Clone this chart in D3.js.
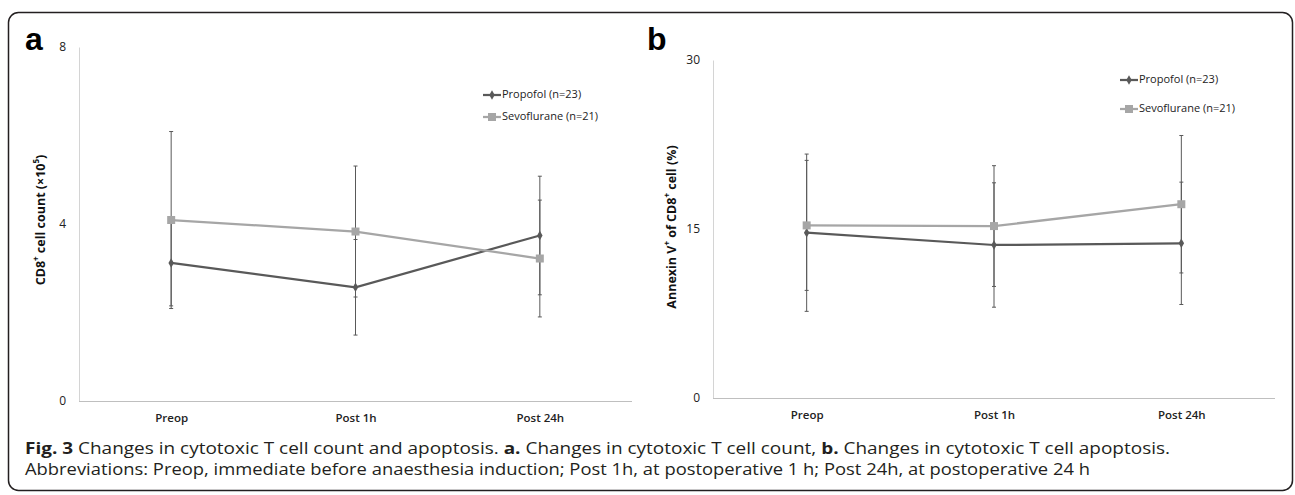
<!DOCTYPE html>
<html>
<head>
<meta charset="utf-8">
<script src="https://cdn.jsdelivr.net/npm/d3@7"></script>
<style>
  body { margin: 0; background: #fff; }
  svg { display: block; }
</style>
</head>
<body>
<script>
// data
const categories = ["Preop", "Post 1h", "Post 24h"];
const seriesNames = ["Propofol (n=23)", "Sevoflurane (n=21)"];

// panel a: CD8+ cell count (x10^5)
const countPropofol = [3.12, 2.57, 3.74];
const countPropofolSd = [0.97, 1.08, 1.34];
const countSevo = [4.09, 3.83, 3.22];
const countSevoSd = [2.00, 1.48, 1.32];
const countTicks = [0, 4, 8];

// panel b: Annexin V+ of CD8+ cell (%)
const annexPropofol = [14.67, 13.58, 13.73];
const annexPropofolSd = [6.98, 5.52, 5.43];
const annexSevo = [15.32, 15.26, 17.2];
const annexSevoSd = [5.77, 5.36, 6.1];
const annexTicks = [0, 15, 30];

const W = 1295, H = 495;
const darkGrey = "#595959";
const lightGrey = "#a6a6a6";
const font = "'Open Sans', sans-serif";

const svg = d3.select("body")
    .append("svg")
    .attr("width", W)
    .attr("height", H);

// outer rounded frame
svg.append("rect")
    .attr("x", 8.5)
    .attr("y", 12.5)
    .attr("width", 1284)
    .attr("height", 478)
    .attr("rx", 10)
    .attr("fill", "none")
    .attr("stroke", "#231f20")
    .attr("stroke-width", 1.5);

function drawPanel(opt) {
    const x = d3.scalePoint()
        .domain(categories)
        .range([opt.left, opt.right])
        .padding(0.5);
    const y = d3.scaleLinear()
        .domain([0, opt.max])
        .range([opt.bottom, opt.top]);

    const g = svg.append("g");

    // y axis: line only, labels on the left
    const yAxis = g.append("g")
        .attr("transform", "translate(" + opt.left + ",0)")
        .call(d3.axisLeft(y).tickValues(opt.ticks).tickSize(0).tickPadding(13));
    yAxis.select(".domain").attr("stroke", "#d4d4d4").attr("stroke-width", 1);
    yAxis.selectAll("text")
        .attr("font-family", font)
        .attr("font-size", 12)
        .attr("fill", "#222");

    // x axis
    const xAxis = g.append("g")
        .attr("transform", "translate(0," + opt.bottom + ")")
        .call(d3.axisBottom(x).tickSize(0).tickPadding(13));
    xAxis.select(".domain")
        .attr("d", "M" + opt.left + ",0.5H" + opt.right)
        .attr("stroke", "#bfbfbf")
        .attr("stroke-width", 1.2);
    xAxis.selectAll("text")
        .attr("font-family", font)
        .attr("font-size", 11.5)
        .attr("font-weight", 600)
        .attr("fill", "#222");

    // y axis title (rotated, with superscripts)
    const title = g.append("text")
        .attr("transform", "translate(" + opt.titleX + "," + opt.titleY + ") rotate(-90)")
        .attr("text-anchor", "middle")
        .attr("dominant-baseline", "middle")
        .attr("font-family", font)
        .attr("font-size", 12.5)
        .attr("font-weight", 700)
        .attr("fill", "#111");
    opt.titleParts.forEach(function (p) {
        const t = title.append("tspan").text(p[0]);
        if (p[1]) t.attr("baseline-shift", "super").attr("font-size", 8);
    });

    // panel letter
    g.append("text")
        .attr("x", opt.letterX)
        .attr("y", 50)
        .attr("font-family", "'Liberation Sans', Arial, sans-serif")
        .attr("font-size", 32)
        .attr("font-weight", 700)
        .attr("fill", "#000")
        .text(opt.letter);

    const series = [
        {name: seriesNames[0], values: opt.p, sd: opt.pSd, color: darkGrey, shape: d3.symbolDiamond, size: 26},
        {name: seriesNames[1], values: opt.s, sd: opt.sSd, color: lightGrey, shape: d3.symbolSquare, size: 64}
    ];

    // error bars
    series.forEach(function (s) {
        const eb = g.append("g");
        eb.selectAll(null)
            .data(s.values)
            .enter()
            .append("line")
            .attr("x1", (d, i) => x(categories[i]))
            .attr("x2", (d, i) => x(categories[i]))
            .attr("y1", (d, i) => y(d - s.sd[i]))
            .attr("y2", (d, i) => y(d + s.sd[i]))
            .attr("stroke", darkGrey)
            .attr("stroke-width", 1);
        [-1, 1].forEach(function (sign) {
            eb.selectAll(null)
                .data(s.values)
                .enter()
                .append("line")
                .attr("x1", (d, i) => x(categories[i]) - 2)
                .attr("x2", (d, i) => x(categories[i]) + 2)
                .attr("y1", (d, i) => y(d + sign * s.sd[i]))
                .attr("y2", (d, i) => y(d + sign * s.sd[i]))
                .attr("stroke", darkGrey)
                .attr("stroke-width", 1);
        });
    });

    // lines and markers (sevoflurane drawn on top)
    const line = d3.line()
        .x((d, i) => x(categories[i]))
        .y(d => y(d));
    series.forEach(function (s) {
        g.append("path")
            .datum(s.values)
            .attr("d", line)
            .attr("fill", "none")
            .attr("stroke", s.color)
            .attr("stroke-width", 2.25);
        g.selectAll(null)
            .data(s.values)
            .enter()
            .append("path")
            .attr("d", d3.symbol().type(s.shape).size(s.size))
            .attr("transform", (d, i) => "translate(" + x(categories[i]) + "," + y(d) + ")")
            .attr("fill", s.color);
    });

    // legend
    series.forEach(function (s, i) {
        const ly = opt.legendY[i];
        const lg = g.append("g");
        lg.append("line")
            .attr("x1", opt.legendX)
            .attr("x2", opt.legendX + 18)
            .attr("y1", ly)
            .attr("y2", ly)
            .attr("stroke", s.color)
            .attr("stroke-width", 2.25);
        lg.append("path")
            .attr("d", d3.symbol().type(s.shape).size(s.size))
            .attr("transform", "translate(" + (opt.legendX + 9) + "," + ly + ")")
            .attr("fill", s.color);
        lg.append("text")
            .attr("x", opt.legendX + 19)
            .attr("y", ly)
            .attr("dominant-baseline", "middle")
            .attr("font-family", font)
            .attr("font-size", 11)
            .attr("fill", "#222")
            .text(s.name);
    });
}

drawPanel({
    letter: "a", letterX: 25,
    left: 79, right: 632, top: 47, bottom: 401, max: 8, ticks: countTicks,
    p: countPropofol, pSd: countPropofolSd, s: countSevo, sSd: countSevoSd,
    titleX: 42, titleY: 220,
    titleParts: [["CD8"], ["+", true], [" cell count (\u00d710"], ["5", true], [")"]],
    legendX: 483, legendY: [95, 117]
});

drawPanel({
    letter: "b", letterX: 647,
    left: 713, right: 1275, top: 60, bottom: 398, max: 30, ticks: annexTicks,
    p: annexPropofol, pSd: annexPropofolSd, s: annexSevo, sSd: annexSevoSd,
    titleX: 673, titleY: 227,
    titleParts: [["Annexin V"], ["+", true], [" of CD8"], ["+", true], [" cell (%)"]],
    legendX: 1120, legendY: [80, 109]
});

// caption
const cap = svg.append("g")
    .attr("font-family", font)
    .attr("font-size", 15.5)
    .attr("fill", "#231f20");
const line1 = cap.append("text").attr("x", 25).attr("y", 454);
line1.append("tspan").attr("font-weight", 700).text("Fig. 3");
line1.append("tspan").text(" Changes in cytotoxic T cell count and apoptosis. ");
line1.append("tspan").attr("font-weight", 700).text("a.");
line1.append("tspan").text(" Changes in cytotoxic T cell count, ");
line1.append("tspan").attr("font-weight", 700).text("b.");
line1.append("tspan").text(" Changes in cytotoxic T cell apoptosis.");
const line2 = cap.append("text").attr("x", 25).attr("y", 475)
    .text("Abbreviations: Preop, immediate before anaesthesia induction; Post 1h, at postoperative 1 h; Post 24h, at postoperative 24 h");

// fit caption lines to the widths seen in the figure
line1.attr("textLength", 1145).attr("lengthAdjust", "spacingAndGlyphs");
line2.attr("textLength", 1065).attr("lengthAdjust", "spacingAndGlyphs");
</script>
</body>
</html>
